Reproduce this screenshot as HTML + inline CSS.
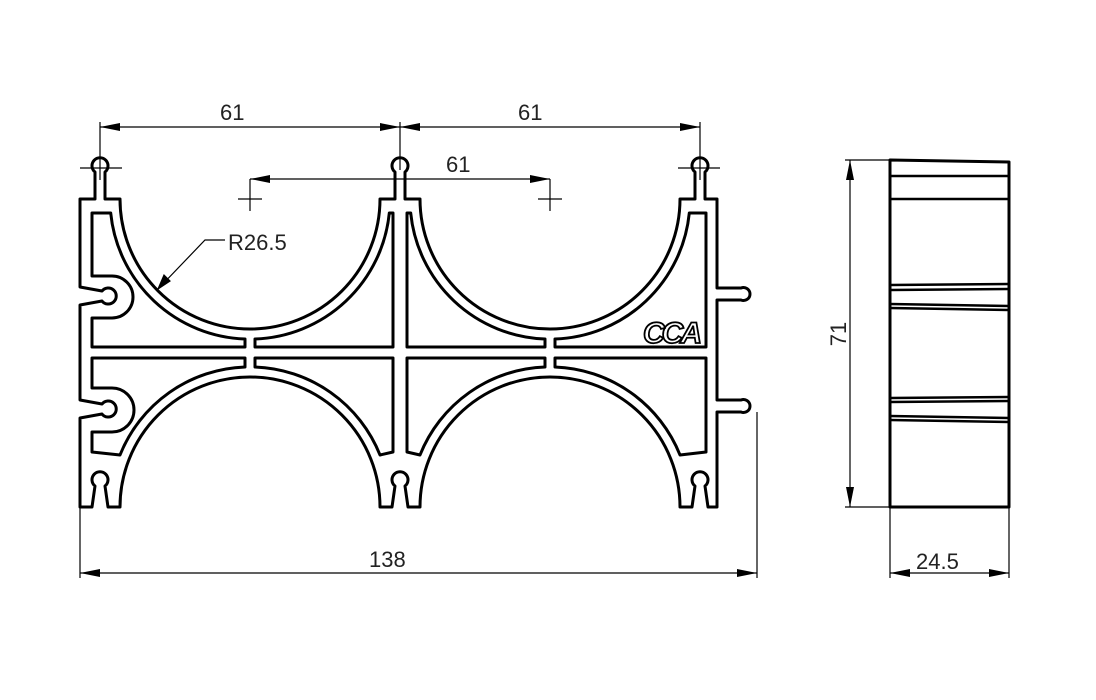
<!DOCTYPE html>
<html><head><meta charset="utf-8"><style>
html,body{margin:0;padding:0;background:#fff;}
svg{display:block;}
text{font-family:"Liberation Sans","DejaVu Sans",sans-serif;font-size:22px;fill:#222;}
</style></head><body>
<svg width="1096" height="700" viewBox="0 0 1096 700" xmlns="http://www.w3.org/2000/svg">
<defs>
<marker id="a" viewBox="0 0 20 8" refX="20" refY="4" markerWidth="20" markerHeight="8" orient="auto-start-reverse" markerUnits="userSpaceOnUse"><path d="M0,0 L20,4 L0,8 Z" fill="#000"/></marker>
</defs>
<g fill="none" stroke="#000" stroke-width="3" stroke-linejoin="round">
<path d="M80,199 H95 V172 A8,8 0 1 1 105,172 V199 H120 A130,130 0 0 0 380,199 H395 V172 A8 8 0 1 1 405,172 V199 H420 A130 130 0 0 0 680 199 H695 V172 A8 8 0 1 1 705 172 V199 H717 V288 H741 A6.5 6.5 0 1 1 741 300 H717 V400 H741 A6.5 6.5 0 1 1 741 412 H717 V507 H708 L705 486 A8 8 0 1 0 695 486 L692 507 H680 A130 130 0 0 0 420 507 H408 L405 486 A8 8 0 1 0 395 486 L392 507 H380 A130 130 0 0 0 120 507 H108 L105 486 A8 8 0 1 0 95 486 L92 507 H80 V418 L102 414 A8 8 0 1 0 102 404 L80 400 V305 L102 301 A8 8 0 1 0 102 291 L80 287 Z"/>
<path d="M92,213 H110.7 A140 140 0 0 0 245 339 V347 H92 V318 H112 A21 21 0 0 0 112 276 H92 Z"/>
<path d="M255,339 A140 140 0 0 0 389.3 213 H393 V347 H255 Z"/>
<path d="M92,358 H245 V367 A140 140 0 0 0 120 455 L92,452 V432 H112 A21 21 0 0 0 112 388 H92 Z"/>
<path d="M255,358 H393 V452 L380,455 A140 140 0 0 0 255 367 Z"/>
<path d="M545,339 A140 140 0 0 1 410.7 213 H407 V347 H545 Z"/>
<path d="M706,213 H689.3 A140 140 0 0 1 555 339 V347 H706 Z"/>
<path d="M545,358 H407 V452 L420,455 A140 140 0 0 1 545 367 Z"/>
<path d="M706,358 H555 V367 A140 140 0 0 1 680 455 L706 452 Z"/>
<path d="M890,160 L1009,162 V507 H890 Z"/>
<path d="M890,176 H1009 M890,199 H1009 M890,285 L1009,284 M890,290 L1009,289 M890,304 L1009,306 M890,308 L1009,310 M890,398 L1009,397 M890,402 L1009,401 M890,416 L1009,418 M890,420 L1009,422" stroke-width="2.4"/>
</g>
<text x="643" y="343" style="font-size:30px;font-style:italic;font-weight:bold;fill:none;stroke:#000;stroke-width:1.8;letter-spacing:-3px">CCA</text>
<g fill="none" stroke="#000" stroke-width="1.2">
<line x1="100" y1="127" x2="400" y2="127" marker-start="url(#a)" marker-end="url(#a)"/>
<line x1="400" y1="127" x2="700" y2="127" marker-start="url(#a)" marker-end="url(#a)"/>
<line x1="100" y1="122" x2="100" y2="180"/>
<line x1="400" y1="122" x2="400" y2="170"/>
<line x1="700" y1="122" x2="700" y2="180"/>
<line x1="80" y1="168" x2="122" y2="168"/>
<line x1="678" y1="168" x2="720" y2="168"/>
<line x1="250" y1="179" x2="550" y2="179" marker-start="url(#a)" marker-end="url(#a)"/>
<line x1="250" y1="179" x2="250" y2="211"/><line x1="238" y1="199" x2="262" y2="199"/>
<line x1="550" y1="179" x2="550" y2="211"/><line x1="538" y1="199" x2="562" y2="199"/>
<polyline points="225,240 205,240 158,289"/>
<path d="M158,289 L164,275 L170,281 Z" fill="#000"/>
<line x1="80" y1="507" x2="80" y2="578"/>
<line x1="757" y1="412" x2="757" y2="578"/>
<line x1="80" y1="573" x2="757" y2="573" marker-start="url(#a)" marker-end="url(#a)"/>
<line x1="845" y1="160" x2="890" y2="160"/>
<line x1="845" y1="507" x2="890" y2="507"/>
<line x1="850" y1="160" x2="850" y2="507" marker-start="url(#a)" marker-end="url(#a)"/>
<line x1="890" y1="507" x2="890" y2="578"/>
<line x1="1009" y1="507" x2="1009" y2="578"/>
<line x1="890" y1="573" x2="1009" y2="573" marker-start="url(#a)" marker-end="url(#a)"/>
</g>
<text x="220" y="120">61</text>
<text x="518" y="120">61</text>
<text x="446" y="172">61</text>
<text x="228" y="250">R26.5</text>
<text x="369" y="567">138</text>
<text x="916" y="569">24.5</text>
<text x="0" y="0" transform="translate(846,334) rotate(-90)" text-anchor="middle">71</text>
</svg>
</body></html>
